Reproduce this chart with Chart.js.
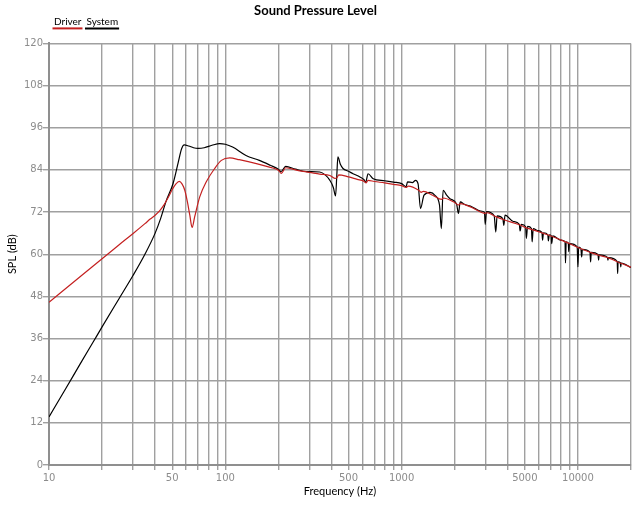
<!DOCTYPE html>
<html>
<head>
<meta charset="utf-8">
<script src="https://cdn.jsdelivr.net/npm/chart.js@4.4.1/dist/chart.umd.min.js"></script>
<style>
  html, body { margin: 0; padding: 0; background: #fff; }
  #wrap { width: 640px; height: 509px; }
</style>
</head>
<body>
<div id="wrap"><canvas id="c" width="640" height="509"></canvas></div>
<script>
// ---- data ----
const driverFreq = [10, 15, 20, 25, 30, 35, 37.5, 40, 42.5, 45, 47.5, 50, 52.5, 54.8, 56.8, 58.9, 61, 62.9, 64.8, 67, 71.6, 78, 87, 95, 106, 120, 150, 180, 200, 208, 220, 260, 300, 343, 392, 418, 430, 440, 500, 560, 610, 628, 645, 700, 800, 900, 1000, 1060, 1090, 1250, 1290, 1330, 1500, 1690, 1720, 2000, 2100, 2150, 2500, 2980, 3050, 3420, 3800, 4700, 5100, 5500, 6300, 7100, 8500, 10000, 11800, 13100, 15000, 16800, 18000, 20000];
const driverSpl  = [46.3, 53.6, 58.7, 62.7, 65.9, 68.7, 70.0, 71.1, 72.4, 74.1, 76.2, 78.4, 80.0, 80.7, 80.0, 78.2, 74.8, 71.1, 67.6, 70.6, 76.3, 80.6, 84.4, 86.7, 87.4, 86.9, 85.8, 84.7, 83.9, 83.0, 84.6, 83.8, 83.3, 82.8, 82.4, 81.6, 81.8, 82.6, 82.0, 81.3, 80.8, 80.3, 81.0, 80.7, 80.3, 79.9, 79.5, 79.0, 79.4, 78.2, 77.6, 77.9, 76.8, 75.6, 76.0, 74.7, 74.0, 74.4, 73.3, 71.6, 71.8, 70.7, 69.8, 68.3, 67.5, 67.0, 66.0, 65.1, 63.5, 61.9, 60.5, 59.7, 58.9, 57.8, 57.2, 56.3];

const systemFreq = [10, 12.5, 15, 17.8, 20, 25, 30, 35, 40, 43, 46, 50.6, 54, 56.5, 58.5, 62, 66, 70, 76, 84, 93, 100, 110, 131, 156, 180, 200, 207, 220, 250, 290, 343, 370, 392, 410, 422, 429, 435, 450, 465, 500, 530, 580, 612, 625, 645, 690, 800, 900, 1000, 1060, 1080, 1150, 1200, 1240, 1280, 1340, 1450, 1550, 1640, 1680, 1720, 1800, 1880, 2050, 2100, 2150, 2270, 2500, 2800, 2950, 2980, 3030, 3350, 3420, 3480, 3750, 3800, 3860, 4300, 4650, 4700, 4780, 5050, 5100, 5180, 5450, 5500, 5580, 5900, 6250, 6300, 6380, 6750, 6800, 6880, 7050, 7100, 7200, 8000, 8450, 8500, 8580, 8820, 8870, 8950, 9900, 10000, 10100, 10400, 10500, 10600, 11700, 11800, 11900, 13000, 13100, 13200, 14700, 14800, 14900, 16700, 16800, 16900, 17400, 17500, 17600, 20000];
const systemSpl  = [13.7, 21.9, 28.7, 35.0, 39.3, 47.4, 54.0, 60.0, 66.0, 70.2, 74.9, 80.2, 86.0, 90.0, 91.1, 90.8, 90.3, 90.1, 90.3, 91.0, 91.5, 91.3, 90.5, 88.1, 86.7, 85.3, 84.2, 83.5, 85.0, 84.2, 83.5, 83.4, 82.5, 81.0, 79.0, 76.6, 82.5, 87.7, 85.5, 84.4, 83.6, 82.9, 82.0, 81.2, 80.4, 82.9, 81.5, 80.9, 80.5, 80.1, 79.2, 80.6, 80.4, 81.0, 80.0, 73.0, 76.8, 77.6, 76.7, 74.0, 67.3, 78.2, 76.8, 75.8, 74.3, 71.6, 74.9, 74.2, 73.5, 72.3, 71.9, 68.5, 72.1, 70.9, 66.3, 70.9, 70.1, 68.2, 71.1, 69.3, 68.5, 66.6, 68.5, 67.8, 64.5, 67.9, 67.3, 63.5, 67.3, 66.7, 66.2, 64.0, 66.1, 65.5, 63.8, 65.5, 65.3, 63.0, 65.2, 64.0, 63.6, 57.5, 63.5, 63.1, 60.7, 63.0, 62.1, 56.4, 62.0, 61.5, 59.2, 61.4, 60.6, 57.8, 60.5, 59.9, 58.3, 59.8, 59.1, 58.3, 59.0, 57.9, 54.5, 57.8, 57.6, 56.4, 57.5, 56.2];

const xGridValues = [10,20,30,40,50,60,70,80,90,100,200,300,400,500,600,700,800,900,1000,2000,3000,4000,5000,6000,7000,8000,9000,10000,20000];
const xLabelValues = [10,50,100,500,1000,5000,10000];
const yMin = 0, yMax = 120, yStep = 12;

const toPts = (fs, vs) => fs.map((f, i) => ({x: f, y: vs[i]}));

const LEGEND_FONT = 10;
const underlinePlugin = {
  id: 'underline',
  afterDraw(chart) {
    const lg = chart.legend;
    if (!lg || !lg.legendHitBoxes) return;
    const ctx = chart.ctx;
    const half = LEGEND_FONT / 2;
    lg.legendHitBoxes.forEach((hb, i) => {
      const item = lg.legendItems[i];
      const ds = chart.data.datasets[item.datasetIndex];
      const yc = hb.top + hb.height / 2 + 7;
      ctx.save();
      ctx.strokeStyle = ds.borderColor;
      ctx.lineWidth = 2;
      ctx.beginPath();
      ctx.moveTo(hb.left + half - 1.5, yc);
      ctx.lineTo(hb.left + hb.width + 1, yc);
      ctx.stroke();
      ctx.restore();
    });
  }
};

const gridColor = '#a0a0a0';
const tickColor = '#8c8c8c';

new Chart(document.getElementById('c'), {
  type: 'line',
  data: {
    datasets: [
      { label: 'Driver', data: toPts(driverFreq, driverSpl), borderColor: '#c42020', borderWidth: 1.2, pointRadius: 0, cubicInterpolationMode: 'monotone', fill: false },
      { label: 'System', data: toPts(systemFreq, systemSpl), borderColor: '#000000', borderWidth: 1.2, pointRadius: 0, cubicInterpolationMode: 'monotone', fill: false }
    ]
  },
  options: {
    responsive: false,
    animation: false,
    devicePixelRatio: 1,
    layout: { padding: { left: 0, right: 9, top: 0, bottom: 0 } },
    plugins: {
      title: {
        display: true,
        text: 'Sound Pressure Level',
        color: '#000',
        font: { family: 'Lato', size: 13, weight: 'bold', lineHeight: 1.2 },
        padding: { top: 3, bottom: -9.2 }
      },
      legend: {
        display: true,
        position: 'top',
        align: 'start',
        fullSize: false,
        labels: {
          boxWidth: 0,
          boxHeight: 24,
          padding: 0,
          color: '#000',
          font: { family: 'Lato', size: LEGEND_FONT },
          generateLabels(chart) {
            return chart.data.datasets.map((ds, i) => ({
              text: ds.label, datasetIndex: i,
              fillStyle: 'rgba(0,0,0,0)', strokeStyle: 'rgba(0,0,0,0)', lineWidth: 0,
              fontColor: '#000', hidden: false
            }));
          }
        }
      },
      tooltip: { enabled: false }
    },
    scales: {
      x: {
        type: 'logarithmic',
        min: 10, max: 20000,
        afterBuildTicks(scale) { scale.ticks = xGridValues.map(v => ({ value: v })); },
        afterFit(scale) { scale.height = 44; },
        ticks: {
          autoSkip: false, maxRotation: 0, minRotation: 0,
          color: tickColor, padding: 2,
          font: { family: 'DejaVu Sans', size: 10 },
          callback: (v) => xLabelValues.includes(Number(v)) ? String(v) : ''
        },
        grid: { color: gridColor, lineWidth: 1.4, drawTicks: true, tickLength: 5, tickColor: gridColor },
        border: { display: true, color: '#8f8f8f', width: 2 },
        title: { display: true, text: 'Frequency (Hz)', color: '#000', font: { family: 'Lato', size: 11 }, padding: { top: 0, bottom: 11.4 } }
      },
      y: {
        type: 'linear',
        min: yMin, max: yMax,
        afterFit(scale) { scale.width = 49; },
        ticks: { stepSize: yStep, color: tickColor, padding: 0, font: { family: 'DejaVu Sans', size: 10 } },
        grid: { color: gridColor, lineWidth: 1.4, drawTicks: true, tickLength: 6, tickColor: gridColor },
        border: { display: true, color: '#8f8f8f', width: 2 },
        title: { display: true, text: 'SPL (dB)', color: '#000', font: { family: 'Lato', size: 11 }, padding: { top: 6, bottom: 0 } }
      }
    }
  },
  plugins: [underlinePlugin]
});
</script>
</body>
</html>
